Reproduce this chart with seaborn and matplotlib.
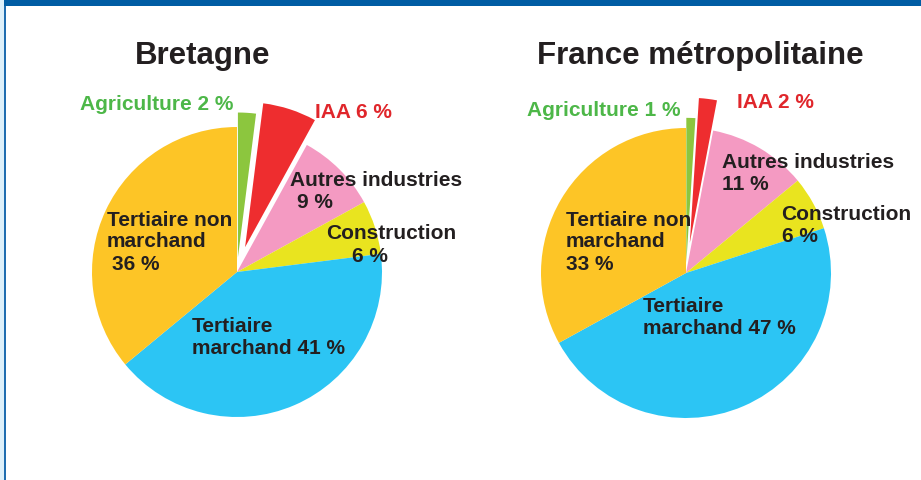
import matplotlib
matplotlib.use("Agg")
import matplotlib.pyplot as plt
from matplotlib.patches import Rectangle
import seaborn as sns

# Part des secteurs dans l'emploi (%)
sectors = ["Agriculture", "IAA", "Autres industries", "Construction",
           "Tertiaire marchand", "Tertiaire non marchand"]
bretagne = [2, 6, 9, 6, 41, 36]
france = [1, 2, 11, 6, 47, 33]
titles = ["Bretagne", "France métropolitaine"]

colors = ["#8CC63E", "#EE2D2F", "#F49AC2", "#E9E41F", "#2CC5F4", "#FDC526"]
text_dark = "#231F20"
text_green = "#4DB748"
text_red = "#E0262B"

sns.set_theme(style="white")
plt.rcParams["font.family"] = ["Liberation Sans", "DejaVu Sans"]

W, H = 921, 481
fig = plt.figure(figsize=(W / 100, H / 100), dpi=100)
ax = fig.add_axes([0, 0, 1, 1])


def Y(y):
    # pixel row (from top) -> data y
    return H - y


# frame decorations
ax.add_patch(Rectangle((0, Y(7)), W, 7, color="#005DA4", lw=0))
ax.add_patch(Rectangle((0, 0), 4, H, color="#DDF0FA", lw=0))
ax.add_patch(Rectangle((4, 0), 2.2, H - 7, color="#1F6DB0", lw=0))

R = 145
pies = [
    dict(vals=bretagne, cx=237, cy=273, explode=[0.1, 0.18, 0, 0, 0, 0], tx=203,
         labels=[
             ([(f"Agriculture {bretagne[0]} %", 80, 104)], text_green),
             ([(f"IAA {bretagne[1]} %", 315, 113)], text_red),
             ([("Autres industries", 290, 181), (f"{bretagne[2]} %", 297, 203)], text_dark),
             ([("Construction", 326, 234), (f"{bretagne[3]} %", 352, 256)], text_dark),
             ([("Tertiaire", 192, 326), (f"marchand {bretagne[4]} %", 192, 348)], text_dark),
             ([("Tertiaire non", 107, 221), ("marchand", 107, 242),
               (f"{bretagne[5]} %", 112, 264)], text_dark),
         ]),
    dict(vals=france, cx=686, cy=274, explode=[0.07, 0.21, 0, 0, 0, 0], tx=700,
         labels=[
             ([(f"Agriculture {france[0]} %", 527, 111)], text_green),
             ([(f"IAA {france[1]} %", 737, 103)], text_red),
             ([("Autres industries", 722, 163), (f"{france[2]} %", 722, 185)], text_dark),
             ([("Construction", 781, 215), (f"{france[3]} %", 782, 237)], text_dark),
             ([("Tertiaire", 643, 306), (f"marchand {france[4]} %", 643, 328)], text_dark),
             ([("Tertiaire non", 566, 220), ("marchand", 566, 242),
               (f"{france[5]} %", 566, 264)], text_dark),
         ]),
]

for p, title in zip(pies, titles):
    # explode is in data units here, so scale by the radius
    ax.pie(p["vals"], colors=colors, explode=[e * R for e in p["explode"]],
           startangle=90, counterclock=False, radius=R,
           center=(p["cx"], Y(p["cy"])), frame=True,
           wedgeprops=dict(linewidth=0))
    ax.text(p["tx"], Y(56), title, ha="center", va="center",
            fontsize=22.5, fontweight="bold", color=text_dark)
    for lines, col in p["labels"]:
        for s, x, y in lines:
            ax.text(x, Y(y), s, ha="left", va="center", fontsize=15,
                    fontweight="bold", color=col)

ax.set_xlim(0, W)
ax.set_ylim(0, H)
ax.set_aspect("equal")
ax.axis("off")

fig.savefig("out.png", dpi=100)
